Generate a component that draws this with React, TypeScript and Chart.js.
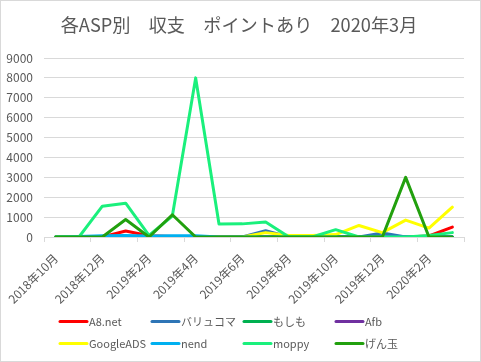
import React, { useEffect, useRef } from "react";
import { Chart, registerables } from "chart.js";

Chart.register(...registerables);

const categories = [
  "2018年10月", "2018年11月", "2018年12月", "2019年1月", "2019年2月", "2019年3月",
  "2019年4月", "2019年5月", "2019年6月", "2019年7月", "2019年8月", "2019年9月",
  "2019年10月", "2019年11月", "2019年12月", "2020年1月", "2020年2月", "2020年3月",
];

const a8net = [0, 0, 0, 300, 60, 30, 0, 0, 0, 0, 0, 0, 0, 0, 0, 0, 50, 500];
const valuecommerce = [0, 0, 0, 0, 0, 0, 0, 0, 0, 320, 0, 0, 0, 0, 200, 0, 0, 0];
const moshimo = [0, 0, 0, 0, 0, 0, 0, 0, 0, 0, 0, 0, 0, 0, 0, 0, 0, 0];
const afb = [0, 0, 0, 0, 0, 0, 0, 0, 0, 0, 0, 0, 0, 0, 0, 0, 0, 0];
const googleAds = [0, 0, 0, 0, 0, 0, 0, 0, 0, 220, 80, 80, 120, 580, 220, 850, 450, 1500];
const nend = [0, 30, 60, 80, 50, 60, 60, 0, 0, 0, 0, 0, 0, 0, 0, 0, 0, 0];
const moppy = [0, 0, 1550, 1700, 80, 1050, 8000, 650, 660, 750, 0, 0, 370, 0, 0, 0, 80, 220];
const gendama = [0, 0, 0, 880, 0, 1120, 0, 0, 0, 0, 0, 0, 0, 0, 0, 3000, 0, 0];

const seriesNames = ["A8.net", "バリュコマ", "もしも", "Afb", "GoogleADS", "nend", "moppy", "げん玉"];
const seriesValues = [a8net, valuecommerce, moshimo, afb, googleAds, nend, moppy, gendama];
const seriesColors = ["#ff0000", "#2e75b6", "#00b050", "#7030a0", "#ffff00", "#00b0f0", "#1af07c", "#22a00e"];

const titleText = "各ASP別　収支　ポイントあり　2020年3月";
const FONT = "'Noto Sans CJK JP', 'Noto Sans', sans-serif";
const TEXT_COLOR = "#595959";
const GRID_COLOR = "#d9d9d9";

const frameTitleLegend = {
  id: "frameTitleLegend",
  beforeDraw(chart: any) {
    const ctx = chart.ctx;
    ctx.save();
    ctx.fillStyle = "#ffffff";
    ctx.fillRect(0, 0, chart.width, chart.height);
    ctx.restore();
  },
  afterDraw(chart: any) {
    const ctx = chart.ctx;
    ctx.save();
    ctx.strokeStyle = GRID_COLOR;
    ctx.lineWidth = 1;
    ctx.strokeRect(0.5, 0.5, chart.width - 1, chart.height - 1);

    ctx.fillStyle = TEXT_COLOR;
    ctx.font = `18.2px ${FONT}`;
    ctx.textAlign = "center";
    ctx.textBaseline = "middle";
    ctx.fillText(titleText, 239, 25);

    ctx.font = `11px ${FONT}`;
    ctx.textBaseline = "middle";
    ctx.textAlign = "left";
    chart.data.datasets.forEach((ds: any, i: number) => {
      const col = i % 4;
      const row = Math.floor(i / 4);
      const x0 = 60 + col * 92;
      const y = 321.5 + row * 22;
      ctx.strokeStyle = ds.borderColor;
      ctx.lineWidth = 3;
      ctx.lineCap = "round";
      ctx.beginPath();
      ctx.moveTo(x0, y);
      ctx.lineTo(x0 + 27, y);
      ctx.stroke();
      ctx.fillStyle = TEXT_COLOR;
      ctx.fillText(ds.label, x0 + 29, y);
    });
    ctx.restore();
  },
};

export default function App() {
  const ref = useRef<HTMLCanvasElement | null>(null);
  useEffect(() => {
    document.body.style.margin = "0";
    const canvas = ref.current!;
    const n = seriesNames.length;
    const chart = new Chart(canvas, {
      type: "line",
      data: {
        labels: categories,
        datasets: seriesNames.map((name, i) => ({
          label: name,
          data: seriesValues[i],
          borderColor: seriesColors[i],
          backgroundColor: seriesColors[i],
          borderWidth: 3,
          pointRadius: 0,
          tension: 0,
          fill: false,
          borderJoinStyle: "round" as const,
          borderCapStyle: "round" as const,
          order: n - i,
        })),
      },
      options: {
        animation: false,
        responsive: false,
        devicePixelRatio: 1,
        layout: { padding: { left: 0, right: 17, top: 58, bottom: 50 } },
        plugins: {
          legend: { display: false },
          tooltip: { enabled: false },
          title: { display: false },
        },
        scales: {
          x: {
            type: "category",
            offset: true,
            afterFit: (scale: any) => {
              scale.height = 75;
            },
            grid: {
              display: true,
              offset: true,
              drawOnChartArea: false,
              drawTicks: true,
              tickLength: 5,
              color: (c: any) =>
                c.index === undefined || c.index % 2 === 0 ? GRID_COLOR : "rgba(0,0,0,0)",
            },
            border: { display: true, color: GRID_COLOR },
            ticks: {
              autoSkip: false,
              maxRotation: 45,
              minRotation: 45,
              padding: 9,
              color: TEXT_COLOR,
              font: { family: FONT, size: 12 },
              callback: (_v: any, idx: number) => (idx % 2 === 0 ? categories[idx] : ""),
            },
          },
          y: {
            min: 0,
            max: 9000,
            afterFit: (scale: any) => {
              scale.width = 44;
            },
            grid: { color: GRID_COLOR, drawTicks: false, lineWidth: 1 },
            border: { display: false },
            ticks: {
              stepSize: 1000,
              padding: 11,
              color: TEXT_COLOR,
              font: { family: FONT, size: 12 },
              callback: (v: any) => String(v),
            },
          },
        },
      },
      plugins: [frameTitleLegend],
    });
    return () => chart.destroy();
  }, []);
  return <canvas ref={ref} width={481} height={362} style={{ display: "block", width: 481, height: 362 }} />;
}
